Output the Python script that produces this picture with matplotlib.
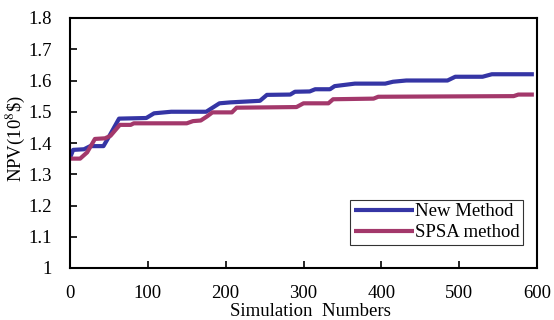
import matplotlib.pyplot as plt

# --- data ---
new_x = [0, 4, 18, 26, 43, 50, 63, 98, 108, 130, 175, 192, 206, 244, 253, 283, 289,
         308, 315, 334, 340, 366, 405, 415, 432, 485, 495, 530, 542, 596]
new_y = [1.352, 1.378, 1.38, 1.39, 1.39, 1.42, 1.478, 1.48, 1.495, 1.50, 1.50, 1.527,
         1.53, 1.535, 1.554, 1.555, 1.564, 1.565, 1.572, 1.572, 1.582, 1.59, 1.59,
         1.596, 1.60, 1.60, 1.612, 1.612, 1.62, 1.62]

spsa_x = [0, 13, 22, 32, 45, 52, 64, 78, 82, 150, 158, 168, 176, 183, 208, 214, 291,
          300, 332, 338, 390, 396, 570, 576, 596]
spsa_y = [1.35, 1.35, 1.37, 1.413, 1.415, 1.423, 1.458, 1.458, 1.463, 1.463, 1.47,
          1.472, 1.485, 1.498, 1.498, 1.513, 1.515, 1.527, 1.527, 1.54, 1.542, 1.548,
          1.55, 1.555, 1.555]

x_ticks = [0, 100, 200, 300, 400, 500, 600]
y_ticks = [1, 1.1, 1.2, 1.3, 1.4, 1.5, 1.6, 1.7, 1.8]
y_tick_labels = ['1', '1.1', '1.2', '1.3', '1.4', '1.5', '1.6', '1.7', '1.8']

plt.rcParams['font.family'] = ['Liberation Serif', 'DejaVu Serif']
plt.rcParams['mathtext.fontset'] = 'stix'

FS = 13.5

fig = plt.figure(figsize=(5.54, 3.2), dpi=100)
ax = fig.add_axes([70 / 554, 52 / 320, 467 / 554, 250 / 320])

ax.plot(new_x, new_y, color='#3535a5', lw=3, label='New Method', solid_capstyle='butt')
ax.plot(spsa_x, spsa_y, color='#a3386b', lw=3, label='SPSA method', solid_capstyle='butt')

ax.set_xlim(0, 600)
ax.set_ylim(1, 1.8)
ax.set_xticks(x_ticks)
ax.set_yticks(y_ticks)
ax.set_yticklabels(y_tick_labels)
ax.tick_params(direction='in', length=5, width=1.2, labelsize=FS, top=False, right=False)
ax.tick_params(axis='x', pad=12)
ax.tick_params(axis='y', pad=13)
for s in ax.spines.values():
    s.set_linewidth(1.5)

ax.set_xlabel('Simulation  Numbers', fontsize=FS)
ax.xaxis.set_label_coords(0.514, -0.14)
ax.set_ylabel('NPV(10$^{8}$\\$)', fontsize=FS)
ax.yaxis.set_label_coords(-0.092, 0.52)

leg = ax.legend(loc='lower right', bbox_to_anchor=(0.97, 0.092), fontsize=FS,
                frameon=True, fancybox=False, edgecolor='black', handlelength=3.2,
                handletextpad=0.05, borderpad=0.2, labelspacing=0.2, borderaxespad=0)
leg.get_frame().set_linewidth(0.8)

fig.savefig('out.png', dpi=100)
